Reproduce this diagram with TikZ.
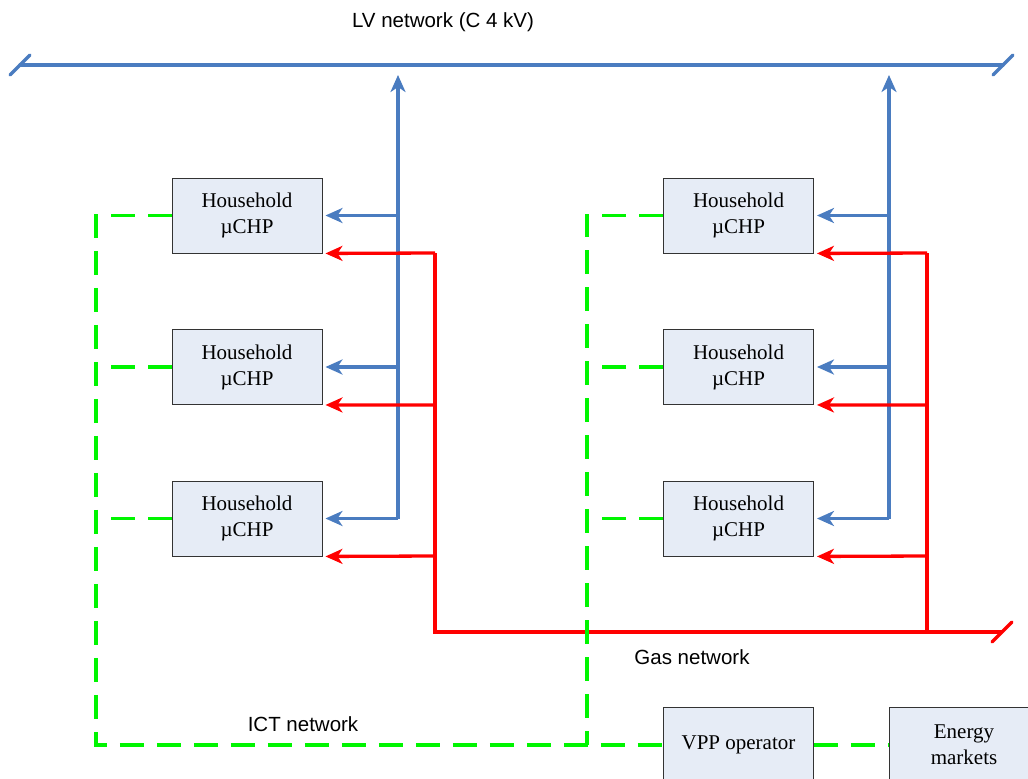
\documentclass[tikz,border=0pt]{standalone}
\usepackage{fontspec}
\setmainfont{Liberation Serif}
\newfontfamily\labelfont{Liberation Sans}
\usetikzlibrary{arrows.meta,calc}
\definecolor{lvblue}{RGB}{74,124,192}
\definecolor{gasred}{RGB}{255,0,0}
\definecolor{ictgreen}{RGB}{0,245,0}
\definecolor{boxfill}{RGB}{230,236,246}
\tikzset{
  hbox/.style={draw=black!80, fill=boxfill, line width=0.9pt, minimum width=150pt, minimum height=75pt, align=center, inner sep=0pt, font=\fontsize{21}{26}\selectfont},
  lvline/.style={lvblue, line width=3.3pt},
  gasline/.style={gasred, line width=3.3pt},
  ictline/.style={ictgreen, line width=3.3pt, dash pattern=on 24pt off 13pt},
  tiphead/.style={-{Stealth[length=17pt,width=15pt,inset=5pt]}, shorten >=3pt},
  lbl/.style={font=\labelfont\fontsize{20.5}{24}\selectfont, inner sep=0pt}
}
\begin{document}
\begin{tikzpicture}[x=1pt,y=-1pt]
\clip (0,0) rectangle (1028,779);
\fill[white] (0,0) rectangle (1028,779);

% household boxes
\node[hbox] (h11) at (247,215.5) {Household\\µCHP};
\node[hbox] (h12) at (247,367) {Household\\µCHP};
\node[hbox] (h13) at (247,518.5) {Household\\µCHP};
\node[hbox] (h21) at (738.5,215.5) {Household\\µCHP};
\node[hbox] (h22) at (738.5,367) {Household\\µCHP};
\node[hbox] (h23) at (738.5,518.5) {Household\\µCHP};
\node[hbox] (vpp) at (738.5,745) {VPP operator};
\node[hbox] (mkt) at (964,745) {Energy\\markets};

% labels
\node[lbl] (lvlab) at (443,22) {LV network (C 4 kV)};
\node[lbl] (gaslab) at (692,657) {Gas network};
\node[lbl] (ictlab) at (303,724) {ICT network};

% LV network
\coordinate (lvL) at (20,65);
\coordinate (lvR) at (1003,65);
\draw[lvline, line cap=round] (lvL) -- (lvR);
\draw[lvline, line cap=round] ($(lvL)+(-10,10)$) -- ($(lvL)+(10,-10)$);
\draw[lvline, line cap=round] ($(lvR)+(-10,10)$) -- ($(lvR)+(10,-10)$);

\coordinate (bt1) at (398,75);
\coordinate (bt2) at (889,75);
\coordinate (b11) at (398,215.5);
\coordinate (b12) at (398,367);
\coordinate (b13) at (398,518.5);
\coordinate (b21) at (889,215.5);
\coordinate (b22) at (889,367);
\coordinate (b23) at (889,518.5);
\draw[lvline, -{Stealth[length=17pt,width=15pt,inset=5pt]}] (b13) -- (bt1);
\draw[lvline, -{Stealth[length=17pt,width=15pt,inset=5pt]}] (b23) -- (bt2);
\draw[lvline, tiphead] (b11) -- (h11.east);
\draw[lvline, tiphead] (b12) -- (h12.east);
\draw[lvline, tiphead] (b13) -- (h13.east);
\draw[lvline, tiphead] (b21) -- (h21.east);
\draw[lvline, tiphead] (b22) -- (h22.east);
\draw[lvline, tiphead] (b23) -- (h23.east);

% Gas network
\coordinate (r11) at (435,253);
\coordinate (r12) at (435,405);
\coordinate (r13) at (435,556);
\coordinate (r21) at (927,253);
\coordinate (r22) at (927,405);
\coordinate (r23) at (927,556);
\coordinate (gL) at (435,632);
\coordinate (gM) at (927,632);
\coordinate (gR) at (1002,632);
\draw[gasline] (r11) -- (gL) -- (gR);
\draw[gasline] (r21) -- (gM);
\draw[gasline, line cap=round] ($(gR)+(-10,10)$) -- ($(gR)+(10,-10)$);
\draw[gasline, tiphead] (r11) -- (h11.south east);
\draw[gasline, tiphead] (r12) -- (h12.south east);
\draw[gasline, tiphead] (r13) -- (h13.south east);
\draw[gasline, tiphead] (r21) -- (h21.south east);
\draw[gasline, tiphead] (r22) -- (h22.south east);
\draw[gasline, tiphead] (r23) -- (h23.south east);

% ICT network
\coordinate (g11) at (96,215.5);
\coordinate (g12) at (96,367);
\coordinate (g13) at (96,518.5);
\coordinate (gb1) at (96,745);
\coordinate (g21) at (587,215.5);
\coordinate (g22) at (587,367);
\coordinate (g23) at (587,518.5);
\coordinate (gb2) at (587,745);
\draw[ictline] (h11.west) -- (g11) -- (gb1) -- (vpp.west);
\draw[ictline] (h12.west) -- (g12);
\draw[ictline] (h13.west) -- (g13);
\draw[ictline] (h21.west) -- (g21) -- (gb2);
\draw[ictline] (h22.west) -- (g22);
\draw[ictline] (h23.west) -- (g23);
\draw[ictline] (vpp.east) -- (mkt.west);
\end{tikzpicture}
\end{document}
